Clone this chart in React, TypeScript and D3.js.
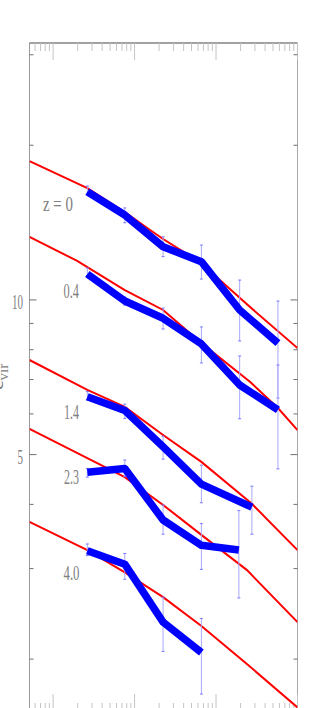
import React from "react";
import * as d3 from "d3";

// ---------- data ----------
const zLabels = ["z = 0", "0.4", "1.4", "2.3", "4.0"];

// simulation (blue) : log10 mass, concentration, error bar low/high
const simMass_z0 = [12.42, 12.88, 13.35, 13.82, 14.29, 14.76];
const simC_z0 = [16.24, 14.63, 12.69, 11.87, 9.56, 8.24];
const simLo_z0 = [16.07, 14.13, 12.14, 10.98, 8.32, 6.44];
const simHi_z0 = [16.66, 15.1, 13.27, 12.79, 10.93, 9.95];

const simMass_z04 = [12.42, 12.88, 13.35, 13.82, 14.29, 14.76];
const simC_z04 = [11.23, 9.95, 9.21, 8.21, 6.83, 6.11];
const simLo_z04 = [11.13, 9.77, 8.78, 7.54, 5.87, 4.69];
const simHi_z04 = [11.54, 10.13, 9.64, 8.86, 7.78, 7.47];

const simMass_z14 = [12.42, 12.88, 13.35, 13.82, 14.44];
const simC_z14 = [6.48, 6.09, 5.18, 4.38, 3.95];
const simLo_z14 = [6.39, 5.88, 4.9, 4.03, 3.5];
const simHi_z14 = [6.63, 6.27, 5.43, 4.77, 4.34];

const simMass_z23 = [12.42, 12.88, 13.35, 13.82, 14.28];
const simC_z23 = [4.62, 4.7, 3.73, 3.33, 3.26];
const simLo_z23 = [4.52, 4.53, 3.5, 2.99, 2.63];
const simHi_z23 = [4.7, 4.88, 3.99, 3.67, 3.89];

const simMass_z40 = [12.42, 12.88, 13.35, 13.82];
const simC_z40 = [3.25, 3.06, 2.36, 2.06];
const simLo_z40 = [3.18, 2.86, 2.07, 1.71];
const simHi_z40 = [3.35, 3.21, 2.64, 2.4];

// model (red)
const modelMass_z0 = [11.71, 12.42, 12.88, 13.19, 13.35, 13.8, 14.39, 15.0];
const modelC_z0 = [18.63, 16.51, 14.83, 13.68, 13.14, 11.85, 9.77, 8.06];
const modelMass_z04 = [11.71, 12.29, 12.88, 13.35, 13.82, 14.42, 14.76, 15.0];
const modelC_z04 = [13.27, 11.92, 10.45, 9.56, 8.24, 6.92, 6.16, 5.58];
const modelMass_z14 = [11.71, 12.42, 12.88, 13.35, 13.82, 14.44, 15.0];
const modelC_z14 = [7.64, 6.68, 6.19, 5.46, 4.84, 4.01, 3.26];
const modelMass_z23 = [11.71, 12.42, 12.88, 13.35, 13.82, 14.38, 15.0];
const modelC_z23 = [5.61, 4.92, 4.52, 3.99, 3.49, 2.98, 2.36];
const modelMass_z40 = [11.71, 12.42, 12.88, 13.35, 13.82, 14.39, 15.0];
const modelC_z40 = [3.7, 3.26, 2.95, 2.64, 2.32, 1.95, 1.61];

const yTickLabels = [10, 5];

// ---------- layout ----------
const W = 314;
const H = 708;
const X0 = 29.5, X1 = 297.5, Y0 = 43, Y1 = 711;

const labelLayout = [
  { x: 43, y: 211, w: 30 },
  { x: 63.5, y: 297.5, w: 15.5 },
  { x: 64, y: 419, w: 15 },
  { x: 64, y: 484, w: 15 },
  { x: 63.5, y: 580, w: 16 },
];

const sims = [
  { m: simMass_z0, c: simC_z0, lo: simLo_z0, hi: simHi_z0 },
  { m: simMass_z04, c: simC_z04, lo: simLo_z04, hi: simHi_z04 },
  { m: simMass_z14, c: simC_z14, lo: simLo_z14, hi: simHi_z14 },
  { m: simMass_z23, c: simC_z23, lo: simLo_z23, hi: simHi_z23 },
  { m: simMass_z40, c: simC_z40, lo: simLo_z40, hi: simHi_z40 },
];
const models = [
  { m: modelMass_z0, c: modelC_z0 },
  { m: modelMass_z04, c: modelC_z04 },
  { m: modelMass_z14, c: modelC_z14 },
  { m: modelMass_z23, c: modelC_z23 },
  { m: modelMass_z40, c: modelC_z40 },
];

export default function App() {
  const x = d3.scaleLog().domain([Math.pow(10, 11.71), 1e15]).range([X0, X1]);
  const y = d3.scaleLog().domain([Math.pow(10, 0.2), Math.pow(10, 1.5)]).range([Y1, Y0]);

  const line = d3
    .line<[number, number]>()
    .x((d) => x(Math.pow(10, d[0])))
    .y((d) => y(d[1]));

  const xTicks = x.ticks().filter((t) => t >= x.domain()[0] && t <= 1e15);
  const isMajorX = (t: number) => Math.abs(Math.log10(t) - Math.round(Math.log10(t))) < 1e-6;
  const yTicks = y.ticks();
  const isMajorY = (t: number) => yTickLabels.includes(t);

  const font = "'Liberation Serif', 'DejaVu Serif', serif";
  const textCol = "#808080";

  return (
    <svg
      width={W}
      height={H}
      style={{ position: "absolute", left: 0, top: 0, background: "#fff" }}
    >
      <defs>
        <clipPath id="plot">
          <rect x={X0} y={Y0} width={X1 - X0} height={Y1 - Y0} />
        </clipPath>
      </defs>

      {/* frame */}
      <line x1={X0} x2={X0} y1={Y0} y2={Y1} stroke="#9a9a9a" strokeWidth={1} />
      <line x1={X1} x2={X1} y1={Y0} y2={Y1} stroke="#a8a8a8" strokeWidth={1} />
      <line x1={X0} x2={X1} y1={Y0} y2={Y0} stroke="#444" strokeWidth={1.2} />
      <line x1={X0} x2={X1} y1={Y1} y2={Y1} stroke="#444" strokeWidth={1.2} />

      {/* x ticks top & bottom */}
      {xTicks.map((t, i) => {
        const px = x(t);
        const len = isMajorX(t) ? 17 : 8;
        return (
          <g key={"xt" + i} stroke="#c4c4c4" strokeWidth={1}>
            <line x1={px} x2={px} y1={Y0} y2={Y0 + len} />
            <line x1={px} x2={px} y1={Y1} y2={Y1 - len} />
          </g>
        );
      })}

      {/* y ticks left & right */}
      {yTicks.map((t, i) => {
        const py = y(t);
        const len = isMajorY(t) ? 7 : 4;
        return (
          <g key={"yt" + i} stroke="#707070" strokeWidth={1}>
            <line x1={X0} x2={X0 + len} y1={py} y2={py} />
            <line x1={X1} x2={X1 - len} y1={py} y2={py} />
          </g>
        );
      })}

      {/* y tick labels */}
      {yTickLabels.map((v) => {
        const s = String(v);
        const w = s.length * 5.5;
        return (
          <text
            key={"yl" + v}
            x={X0 - 6.5 - w}
            y={y(v) + 9.5}
            fontFamily={font}
            fontSize={22}
            fill={textCol}
            textLength={w}
            lengthAdjust="spacingAndGlyphs"
          >
            {s}
          </text>
        );
      })}

      {/* y axis label */}
      <text
        transform={`translate(3,${(Y0 + Y1) / 2}) rotate(-90)`}
        textAnchor="middle"
        fontFamily={font}
        fontSize={22}
        fill={textCol}
      >
        c
        <tspan fontSize={15} dy={5}>
          vir
        </tspan>
      </text>

      <g clipPath="url(#plot)">
        {/* model curves */}
        {models.map((mo, i) => (
          <path
            key={"m" + i}
            d={line(mo.m.map((m, j) => [m, mo.c[j]] as [number, number])) || ""}
            fill="none"
            stroke="#ff0000"
            strokeWidth={2}
          />
        ))}

        {/* error bars */}
        {sims.map((s, i) => (
          <g key={"e" + i}>
            {s.m.map((m, j) => {
              const px = x(Math.pow(10, m));
              return (
                <g key={j}>
                  <line
                    x1={px}
                    x2={px}
                    y1={y(s.lo[j])}
                    y2={y(s.hi[j])}
                    stroke="#a8a8ff"
                    strokeWidth={1}
                  />
                  <line x1={px - 1.5} x2={px + 1.5} y1={y(s.lo[j])} y2={y(s.lo[j])} stroke="#7878ff" strokeWidth={1} />
                  <line x1={px - 1.5} x2={px + 1.5} y1={y(s.hi[j])} y2={y(s.hi[j])} stroke="#7878ff" strokeWidth={1} />
                </g>
              );
            })}
          </g>
        ))}

        {/* simulation curves */}
        {sims.map((s, i) => (
          <path
            key={"s" + i}
            d={line(s.m.map((m, j) => [m, s.c[j]] as [number, number])) || ""}
            fill="none"
            stroke="#0000ff"
            strokeWidth={7.5}
            strokeLinejoin="round"
            strokeLinecap="butt"
          />
        ))}
      </g>

      {/* redshift labels */}
      {zLabels.map((t, i) => (
        <text
          key={"zl" + i}
          x={labelLayout[i].x}
          y={labelLayout[i].y}
          fontFamily={font}
          fontSize={22}
          fill={textCol}
          textLength={labelLayout[i].w}
          lengthAdjust="spacingAndGlyphs"
          style={{ whiteSpace: "pre" }}
        >
          {t}
        </text>
      ))}
    </svg>
  );
}
